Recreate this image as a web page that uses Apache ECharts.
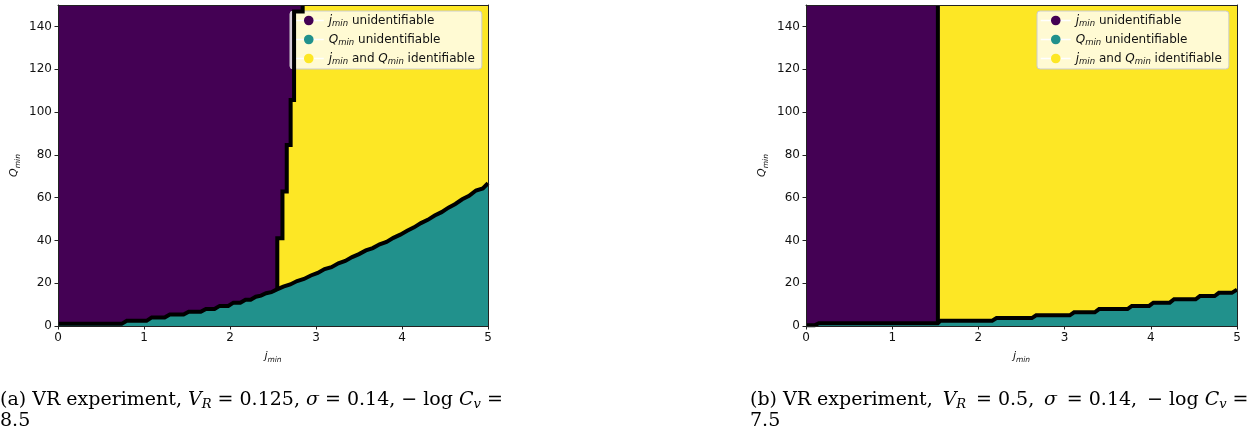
<!DOCTYPE html>
<html>
<head>
<meta charset="utf-8">
<script src="https://cdn.jsdelivr.net/npm/echarts@6/dist/echarts.min.js"></script>
<style>
html,body{margin:0;padding:0;background:#fff;}
#c{width:1260px;height:430px;}
</style>
</head>
<body>
<div id="c"></div>
<script>
// ---------- data ----------
const xTicks = [0, 1, 2, 3, 4, 5];
const yTicks = [0, 20, 40, 60, 80, 100, 120, 140];
const legendNames = ['jmin unidentifiable', 'Qmin unidentifiable', 'jmin and Qmin identifiable'];
const regionColors = ['#440154', '#21918c', '#fde725'];

// panel (a): boundary between "Q unidentifiable" (below) and the rest
const lowerA = [
  [0, 1.0], [0.74, 1.0], [0.80, 2.4], [1.03, 2.4], [1.09, 4.0], [1.24, 4.0], [1.30, 5.4], [1.46, 5.4],
  [1.52, 6.7], [1.66, 6.7], [1.72, 8.0], [1.82, 8.0], [1.88, 9.4], [1.98, 9.4], [2.04, 10.9], [2.12, 10.9],
  [2.18, 12.3], [2.24, 12.3], [2.30, 13.7], [2.36, 14.2], [2.42, 15.3], [2.48, 15.8], [2.54, 17.0],
  [2.62, 18.4], [2.70, 19.4], [2.78, 21.0], [2.86, 22.0], [2.94, 23.6], [3.02, 24.8], [3.10, 26.6],
  [3.18, 27.5], [3.26, 29.3], [3.34, 30.4], [3.42, 32.2], [3.50, 33.6], [3.58, 35.3], [3.66, 36.4],
  [3.74, 38.2], [3.82, 39.3], [3.90, 41.2], [3.98, 42.7], [4.06, 44.5], [4.14, 46.1], [4.22, 48.1],
  [4.30, 49.6], [4.38, 51.6], [4.46, 53.2], [4.54, 55.3], [4.62, 57.0], [4.70, 59.2], [4.78, 60.8],
  [4.86, 63.3], [4.94, 64.3], [5.0, 66.7]
];
// panel (a): boundary between "j unidentifiable" (left) and "identifiable" (right)
const verticalA = [
  [2.55, 17.4], [2.55, 41.0], [2.61, 41.0], [2.61, 62.8], [2.66, 62.8], [2.66, 84.6],
  [2.705, 84.6], [2.705, 105.6], [2.745, 105.6], [2.745, 147.0], [2.845, 147.0], [2.845, 150]
];

// panel (b)
const lowerB = [
  [0, 0.3], [0.10, 0.3], [0.15, 1.3], [1.53, 1.3], [1.56, 2.5], [2.16, 2.5], [2.21, 3.7], [2.62, 3.7],
  [2.67, 5.0], [3.06, 5.0], [3.11, 6.4], [3.35, 6.4], [3.40, 7.9], [3.73, 7.9], [3.78, 9.4], [3.98, 9.4],
  [4.03, 10.9], [4.22, 10.9], [4.27, 12.5], [4.52, 12.5], [4.57, 14.0], [4.74, 14.0], [4.79, 15.5],
  [4.94, 15.5], [5.0, 17.0]
];
const verticalB = [[1.53, 1.3], [1.53, 150]];

const captionA = '{n|(a) VR experiment, }{i|V}{s|R}{n| = 0.125, }{i|σ}{n| = 0.14, − log }{i|C}{s|v}{n| =}\n{n|8.5}';
const captionB = '{n|(b) VR experiment,\u2009 }{i|V}{s|R}{n|\u2009 = 0.5,\u2009 }{i|σ}{n|\u2009 = 0.14,\u2009 − log }{i|C}{s|v}{n| =}\n{n|7.5}';

// ---------- build ----------
const X_MIN = 0, X_MAX = 5, Y_MIN = 0, Y_MAX = 150;

const tickFont = {fontFamily: 'DejaVu Sans', fontSize: 12, color: '#111'};

function mathRich(base, sub, lh) {
  return {
    i: {fontFamily: 'DejaVu Sans', fontStyle: 'italic', fontSize: base, lineHeight: lh, color: '#111'},
    s: {fontFamily: 'DejaVu Sans', fontStyle: 'italic', fontSize: sub, lineHeight: sub, verticalAlign: 'bottom', color: '#111'},
    n: {fontFamily: 'DejaVu Sans', fontSize: base, lineHeight: lh, color: '#111'}
  };
}

function legendFmt(name) {
  if (name === legendNames[0]) return '{i|j}{s|min}{n| unidentifiable}';
  if (name === legendNames[1]) return '{i|Q}{s|min}{n| unidentifiable}';
  return '{i|j}{s|min}{n| and }{i|Q}{s|min}{n| identifiable}';
}

const grids = [
  {left: 58, top: 5, width: 430, height: 321},
  {left: 806, top: 5, width: 431, height: 321}
];

const xAxes = [], yAxes = [];
grids.forEach((g, gi) => {
  xAxes.push({
    gridIndex: gi, type: 'value', min: X_MIN, max: X_MAX, interval: 1, position: 'bottom', z: 10,
    axisLine: {show: true, onZero: false, lineStyle: {color: '#222', width: 1}},
    axisTick: {show: true, length: 3.5, lineStyle: {color: '#222'}, customValues: xTicks},
    axisLabel: Object.assign({margin: 6, customValues: xTicks}, tickFont),
    splitLine: {show: false},
    name: '{i|j}{s|min}', nameLocation: 'middle', nameGap: 22,
    nameTextStyle: {rich: mathRich(11, 7.5, 16)}
  });
  xAxes.push({
    gridIndex: gi, type: 'value', min: X_MIN, max: X_MAX, position: 'top', z: 10,
    axisLine: {show: true, onZero: false, lineStyle: {color: '#222', width: 1}},
    axisTick: {show: false}, axisLabel: {show: false}, splitLine: {show: false}
  });
  yAxes.push({
    gridIndex: gi, type: 'value', min: Y_MIN, max: Y_MAX, interval: 20, position: 'left', z: 10,
    axisLine: {show: true, onZero: false, lineStyle: {color: '#222', width: 1}},
    axisTick: {show: true, length: 3.5, lineStyle: {color: '#222'}, customValues: yTicks},
    axisLabel: Object.assign({margin: 6, customValues: yTicks}, tickFont),
    splitLine: {show: false},
    name: '{i|Q}{s|min}', nameLocation: 'middle', nameGap: 36,
    nameTextStyle: {rich: mathRich(11, 7.5, 16)}
  });
  yAxes.push({
    gridIndex: gi, type: 'value', min: Y_MIN, max: Y_MAX, position: 'right', z: 10,
    axisLine: {show: true, onZero: false, lineStyle: {color: '#222', width: 1}},
    axisTick: {show: false}, axisLabel: {show: false}, splitLine: {show: false}
  });
});

function polySeries(gi, points, color, z) {
  return {
    type: 'custom', xAxisIndex: gi * 2, yAxisIndex: gi * 2, silent: true, clip: true, z: z,
    data: [[0, 0]],
    renderItem: function (params, api) {
      return {
        type: 'polygon',
        shape: {points: points.map(p => api.coord(p))},
        style: {fill: color, stroke: null}
      };
    }
  };
}

function lineSeries(gi, points) {
  return {
    type: 'line', xAxisIndex: gi * 2, yAxisIndex: gi * 2, data: points, z: 5,
    showSymbol: false, symbol: 'none', silent: true, clip: true,
    lineStyle: {color: '#000', width: 4, join: 'miter', cap: 'butt'}
  };
}

const panels = [
  {lower: lowerA, vertical: verticalA},
  {lower: lowerB, vertical: verticalB}
];

const series = [];
panels.forEach((p, gi) => {
  const rect = [[X_MIN, Y_MIN], [X_MAX, Y_MIN], [X_MAX, Y_MAX], [X_MIN, Y_MAX]];
  series.push(polySeries(gi, rect, regionColors[2], 1));
  const jx = p.vertical[0][0];
  const purplePts = p.lower.filter(q => q[0] < jx).concat(p.vertical).concat([[X_MIN, Y_MAX]]);
  series.push(polySeries(gi, purplePts, regionColors[0], 2));
  const tealPts = p.lower.concat([[X_MAX, Y_MIN], [X_MIN, Y_MIN]]);
  series.push(polySeries(gi, tealPts, regionColors[1], 3));
  series.push(lineSeries(gi, p.lower));
  series.push(lineSeries(gi, p.vertical));
});
legendNames.forEach((n, k) => {
  series.push({
    type: 'line', name: n, xAxisIndex: 0, yAxisIndex: 0, data: [],
    symbol: 'circle', color: regionColors[k],
    itemStyle: {color: regionColors[k]},
    lineStyle: {color: '#ffffff', width: 1.5}
  });
});

function legendCfg(left) {
  return {
    data: legendNames, left: left, top: 11, orient: 'vertical',
    itemWidth: 30, itemHeight: 12, itemGap: 4, padding: [2, 7, 3, 3],
    backgroundColor: 'rgba(255,255,255,0.8)', borderColor: '#cccccc', borderWidth: 1, borderRadius: 3,
    selectedMode: false,
    lineStyle: {color: '#ffffff', width: 1.5},
    itemStyle: {borderWidth: 0},
    formatter: legendFmt,
    textStyle: {fontSize: 12, lineHeight: 15, rich: mathRich(12, 8.5, 15)}
  };
}

const capRich = {
  n: {fontFamily: 'DejaVu Serif', fontWeight: 'normal', fontSize: 19, lineHeight: 21, color: '#000'},
  i: {fontFamily: 'DejaVu Serif', fontWeight: 'normal', fontStyle: 'italic', fontSize: 19, lineHeight: 21, color: '#000'},
  s: {fontFamily: 'DejaVu Serif', fontWeight: 'normal', fontStyle: 'italic', fontSize: 13, lineHeight: 13, verticalAlign: 'bottom', color: '#000'}
};

const option = {
  animation: false,
  backgroundColor: '#ffffff',
  grid: grids.map(g => Object.assign({containLabel: false}, g)),
  xAxis: xAxes,
  yAxis: yAxes,
  legend: [legendCfg(290), legendCfg(1037)],
  title: [
    {text: captionA, left: 0, top: 390, padding: 0, textStyle: {fontWeight: 'normal', rich: capRich}},
    {text: captionB, left: 750, top: 390, padding: 0, textStyle: {fontWeight: 'normal', rich: capRich}}
  ],
  series: series
};

const chart = echarts.init(document.getElementById('c'), null, {renderer: 'canvas'});
chart.setOption(option);
</script>
</body>
</html>
